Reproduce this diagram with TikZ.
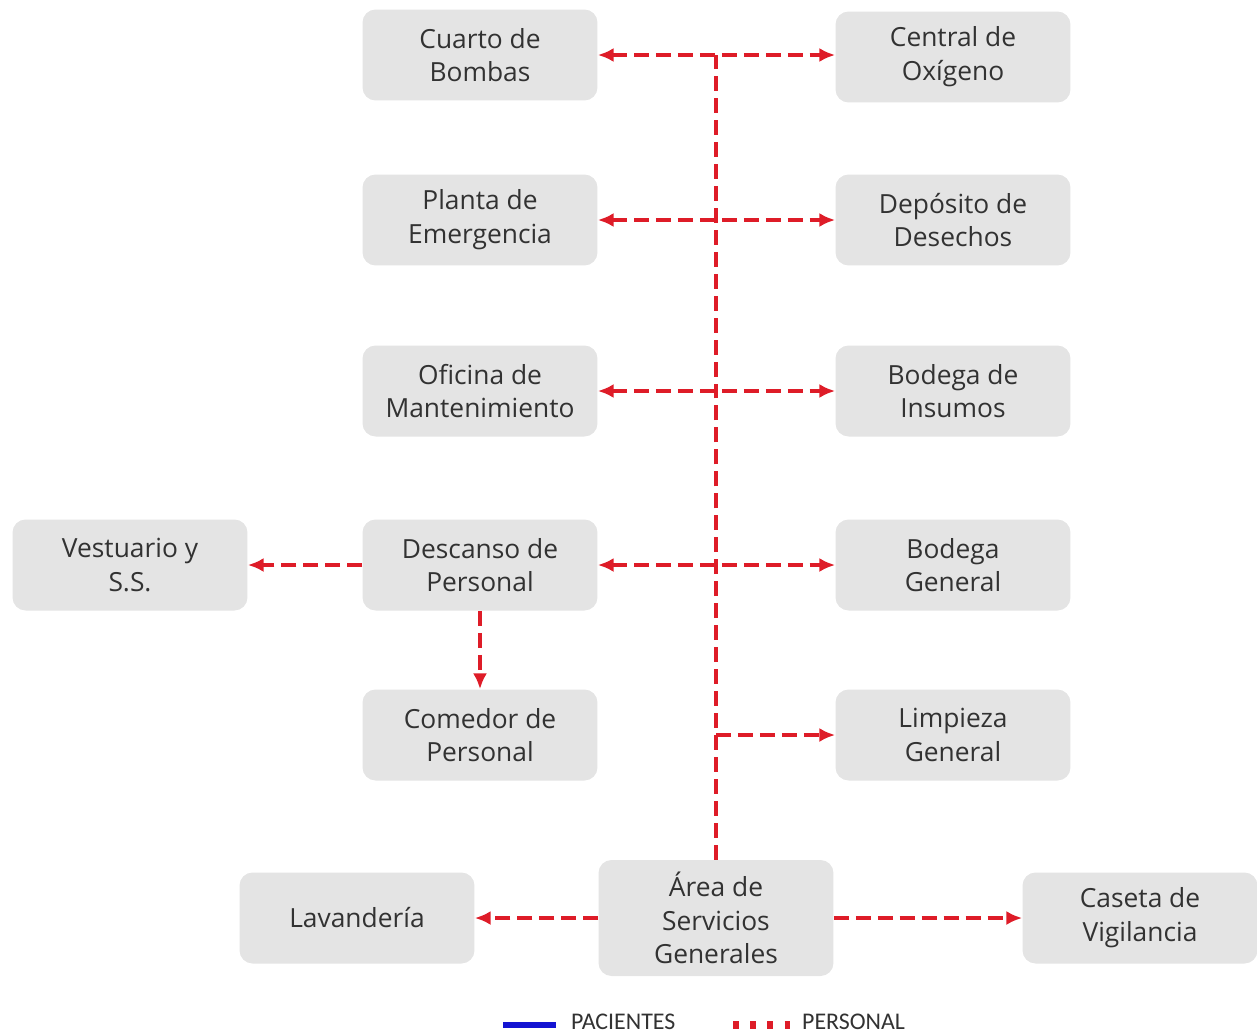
\documentclass[tikz,border=0pt]{standalone}
\usepackage{fontspec}
\setmainfont{Open Sans}
\newfontfamily\legfont{Carlito}
\usetikzlibrary{arrows.meta}
\definecolor{boxgray}{RGB}{228,228,228}
\definecolor{txtgray}{RGB}{50,50,50}
\definecolor{flowred}{RGB}{222,28,40}
\definecolor{flowblue}{RGB}{20,20,210}
\begin{document}
\begin{tikzpicture}[x=0.02cm,y=-0.02cm,
  area/.style={fill=boxgray,rounded corners=0.26cm,minimum width=4.7cm,minimum height=1.82cm,
    inner sep=2pt,align=center,text=txtgray,font=\fontsize{15}{19.2}\selectfont},
  pers/.style={draw=flowred,line width=2.2pt,dash pattern=on 8.5pt off 4pt,
    -{Latex[length=9pt,width=8pt]}},
  legtext/.style={anchor=west,text=txtgray,font=\legfont\fontsize{13.6}{14}\selectfont}]
\useasboundingbox (0,0) rectangle (1257,1035);
% left column
\node[area] (bomb) at (480,55) {Cuarto de\\Bombas};
\node[area] (plant) at (480,220) {Planta de\\Emergencia};
\node[area] (ofic) at (480,391) {Oficina de\\Mantenimiento};
\node[area] (desc) at (480,565) {Descanso de\\Personal};
\node[area] (come) at (480,735) {Comedor de\\Personal};
\node[area] (vest) at (130,565) {Vestuario y\\S.S.};
% right column
\node[area] (oxig) at (953,57) {Central de\\Oxígeno};
\node[area] (depo) at (953,220) {Depósito de\\Desechos};
\node[area] (insu) at (953,391) {Bodega de\\Insumos};
\node[area] (bgen) at (953,565) {Bodega\\General};
\node[area] (limp) at (953,735) {Limpieza\\General};
% bottom row
\node[area] (lava) at (357,918) {Lavandería};
\node[area,minimum height=2.32cm] (serv) at (716,918) {Área de\\Servicios\\Generales};
\node[area] (case) at (1140,918) {Caseta de\\Vigilancia};
% trunk from the service area
\coordinate (top) at (serv.north |- bomb.east);
\coordinate (lim) at (serv.north |- limp.west);
\draw[pers,-] (serv.north) -- (top);
\draw[pers,{Latex[length=9pt,width=8pt]}-{Latex[length=9pt,width=8pt]}] (bomb.east) -- (oxig.west |- bomb.east);
\draw[pers,{Latex[length=9pt,width=8pt]}-{Latex[length=9pt,width=8pt]}] (plant.east) -- (depo.west);
\draw[pers,{Latex[length=9pt,width=8pt]}-{Latex[length=9pt,width=8pt]}] (ofic.east) -- (insu.west);
\draw[pers,{Latex[length=9pt,width=8pt]}-{Latex[length=9pt,width=8pt]}] (desc.east) -- (bgen.west);
\draw[pers] (lim) -- (limp.west);
\draw[pers] (desc.west) -- (vest.east);
\draw[pers] (desc.south) -- (come.north);
\draw[pers] (serv.west) -- (lava.east);
\draw[pers] (serv.east) -- (case.west);
% legend
\coordinate (pa) at (503,1025);
\coordinate (pb) at (556,1025);
\coordinate (qa) at (733,1025);
\coordinate (qb) at (790,1025);
\draw[flowblue,line width=3.4pt] (pa) -- (pb);
\draw[flowred,line width=4.4pt,dash pattern=on 3.4pt off 6.4pt] (qa) -- (qb);
\node[legtext] (paci) at (565,1022) {PACIENTES};
\node[legtext] (pers) at (796,1022) {PERSONAL};
\end{tikzpicture}
\end{document}
